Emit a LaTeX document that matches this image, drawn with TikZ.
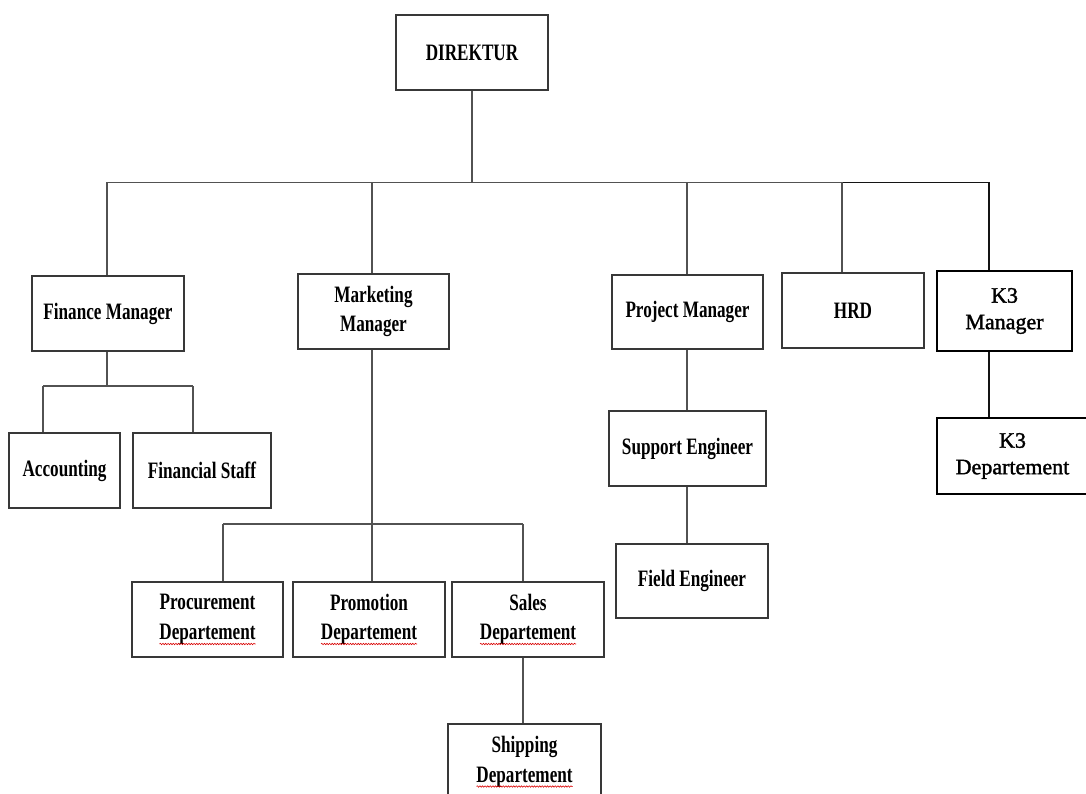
\documentclass[tikz,border=0pt]{standalone}
\usepackage{fontspec}
\setmainfont{Liberation Serif}
\newfontfamily\cf[FakeStretch=0.73]{Liberation Serif}
\newfontfamily\kf[FakeBold=1.6]{Liberation Serif}
\usetikzlibrary{decorations.pathmorphing}
\begin{document}
\begin{tikzpicture}[x=1pt,y=-1pt,
 bx/.style 2 args={draw=black!78,line width=1.9pt,fill=white,inner sep=0pt,align=center,minimum width=#1pt,minimum height=#2pt,font=\cf\bfseries\fontsize{23.5}{29.5}\selectfont},
 kb/.style 2 args={draw=black,line width=1.5pt,fill=white,inner sep=0pt,align=center,minimum width=#1pt,minimum height=#2pt,font=\kf\fontsize{22}{26.5}\selectfont},
 ln/.style={draw=black!68,line width=1.4pt},
 kl/.style={draw=black!92,line width=1.4pt},
 sq/.style={draw=red!85!black,line width=0.6pt,decorate,decoration={snake,amplitude=0.7pt,segment length=2.6pt}}]
\useasboundingbox (0,0) rectangle (1086,794);
\fill[white] (0,0) rectangle (1086,794);
\clip (0,0) rectangle (1086,794);

% nodes
\node[bx={152}{75}] (dir) at (472,52.5) {DIREKTUR};
\node[bx={152}{75}] (fin) at (108,313.5) {Finance Manager};
\node[bx={151}{75}] (mkt) at (373.5,311.5) {Marketing\\Manager};
\node[bx={151}{74}] (prj) at (687.5,312) {Project Manager};
\node[bx={142}{75}] (hrd) at (853,310.5) {HRD};
\node[kb={135}{80}] (k3m) at (1004.5,311) {K3\\Manager};
\node[bx={111}{75}] (acc) at (64.5,470.5) {Accounting};
\node[bx={138}{75}] (fst) at (202,470.5) {Financial Staff};
\node[bx={157}{75}] (sup) at (687.5,448.5) {Support Engineer};
\node[bx={152}{74}] (fld) at (692,581) {Field Engineer};
\node[kb={151}{76}] (k3d) at (1012.5,456) {K3\\Departement};
\node[bx={151}{75}] (pro) at (207.5,619.5) {Procurement\\Departement};
\node[bx={152}{75}] (prm) at (369,619.5) {Promotion\\Departement};
\node[bx={152}{75}] (sal) at (528,619.5) {Sales\\Departement};
\node[bx={153}{76}] (shp) at (524.5,762) {Shipping\\Departement};

% main bus
\coordinate (bL) at (107,182.5);
\coordinate (bM) at (372,182.5);
\coordinate (bD) at (472,182.5);
\coordinate (bP) at (687,182.5);
\coordinate (bH) at (842,182.5);
\coordinate (bR) at (989,182.5);
\draw[ln] (dir.south) -- (bD);
\draw[ln] (bL) -- (bH);
\draw[kl] (bH) -- (bR);
\draw[ln] (bL) -- (bL |- fin.north);
\draw[ln] (bM) -- (bM |- mkt.north);
\draw[ln] (bP) -- (bP |- prj.north);
\draw[ln] (bH) -- (bH |- hrd.north);
\draw[kl] (bR) -- (bR |- k3m.north);

% finance branch
\coordinate (fb) at (107,386);
\coordinate (fa) at (43,386);
\coordinate (ff) at (193,386);
\draw[ln] (fb |- fin.south) -- (fb);
\draw[ln] (fa) -- (ff);
\draw[ln] (fa) -- (fa |- acc.north);
\draw[ln] (ff) -- (ff |- fst.north);

% marketing branch
\coordinate (mx) at (372,524);
\coordinate (ma) at (223,524);
\coordinate (ms) at (523,524);
\draw[ln] (mx |- mkt.south) -- (mx |- prm.north);
\draw[ln] (ma) -- (ms);
\draw[ln] (ma) -- (ma |- pro.north);
\draw[ln] (ms) -- (ms |- sal.north);
\draw[ln] (ms |- sal.south) -- (ms |- shp.north);

% project branch
\draw[ln] (bP |- prj.south) -- (bP |- sup.north);
\draw[ln] (bP |- sup.south) -- (bP |- fld.north);

% K3 branch
\draw[kl] (bR |- k3m.south) -- (bR |- k3d.north);

% spell-check underlines
\foreach \n in {pro,prm,sal,shp}{
  \draw[sq] ([xshift=-48pt,yshift=-24.5pt]\n.center) -- ([xshift=48pt,yshift=-24.5pt]\n.center);
}
\end{tikzpicture}
\end{document}
